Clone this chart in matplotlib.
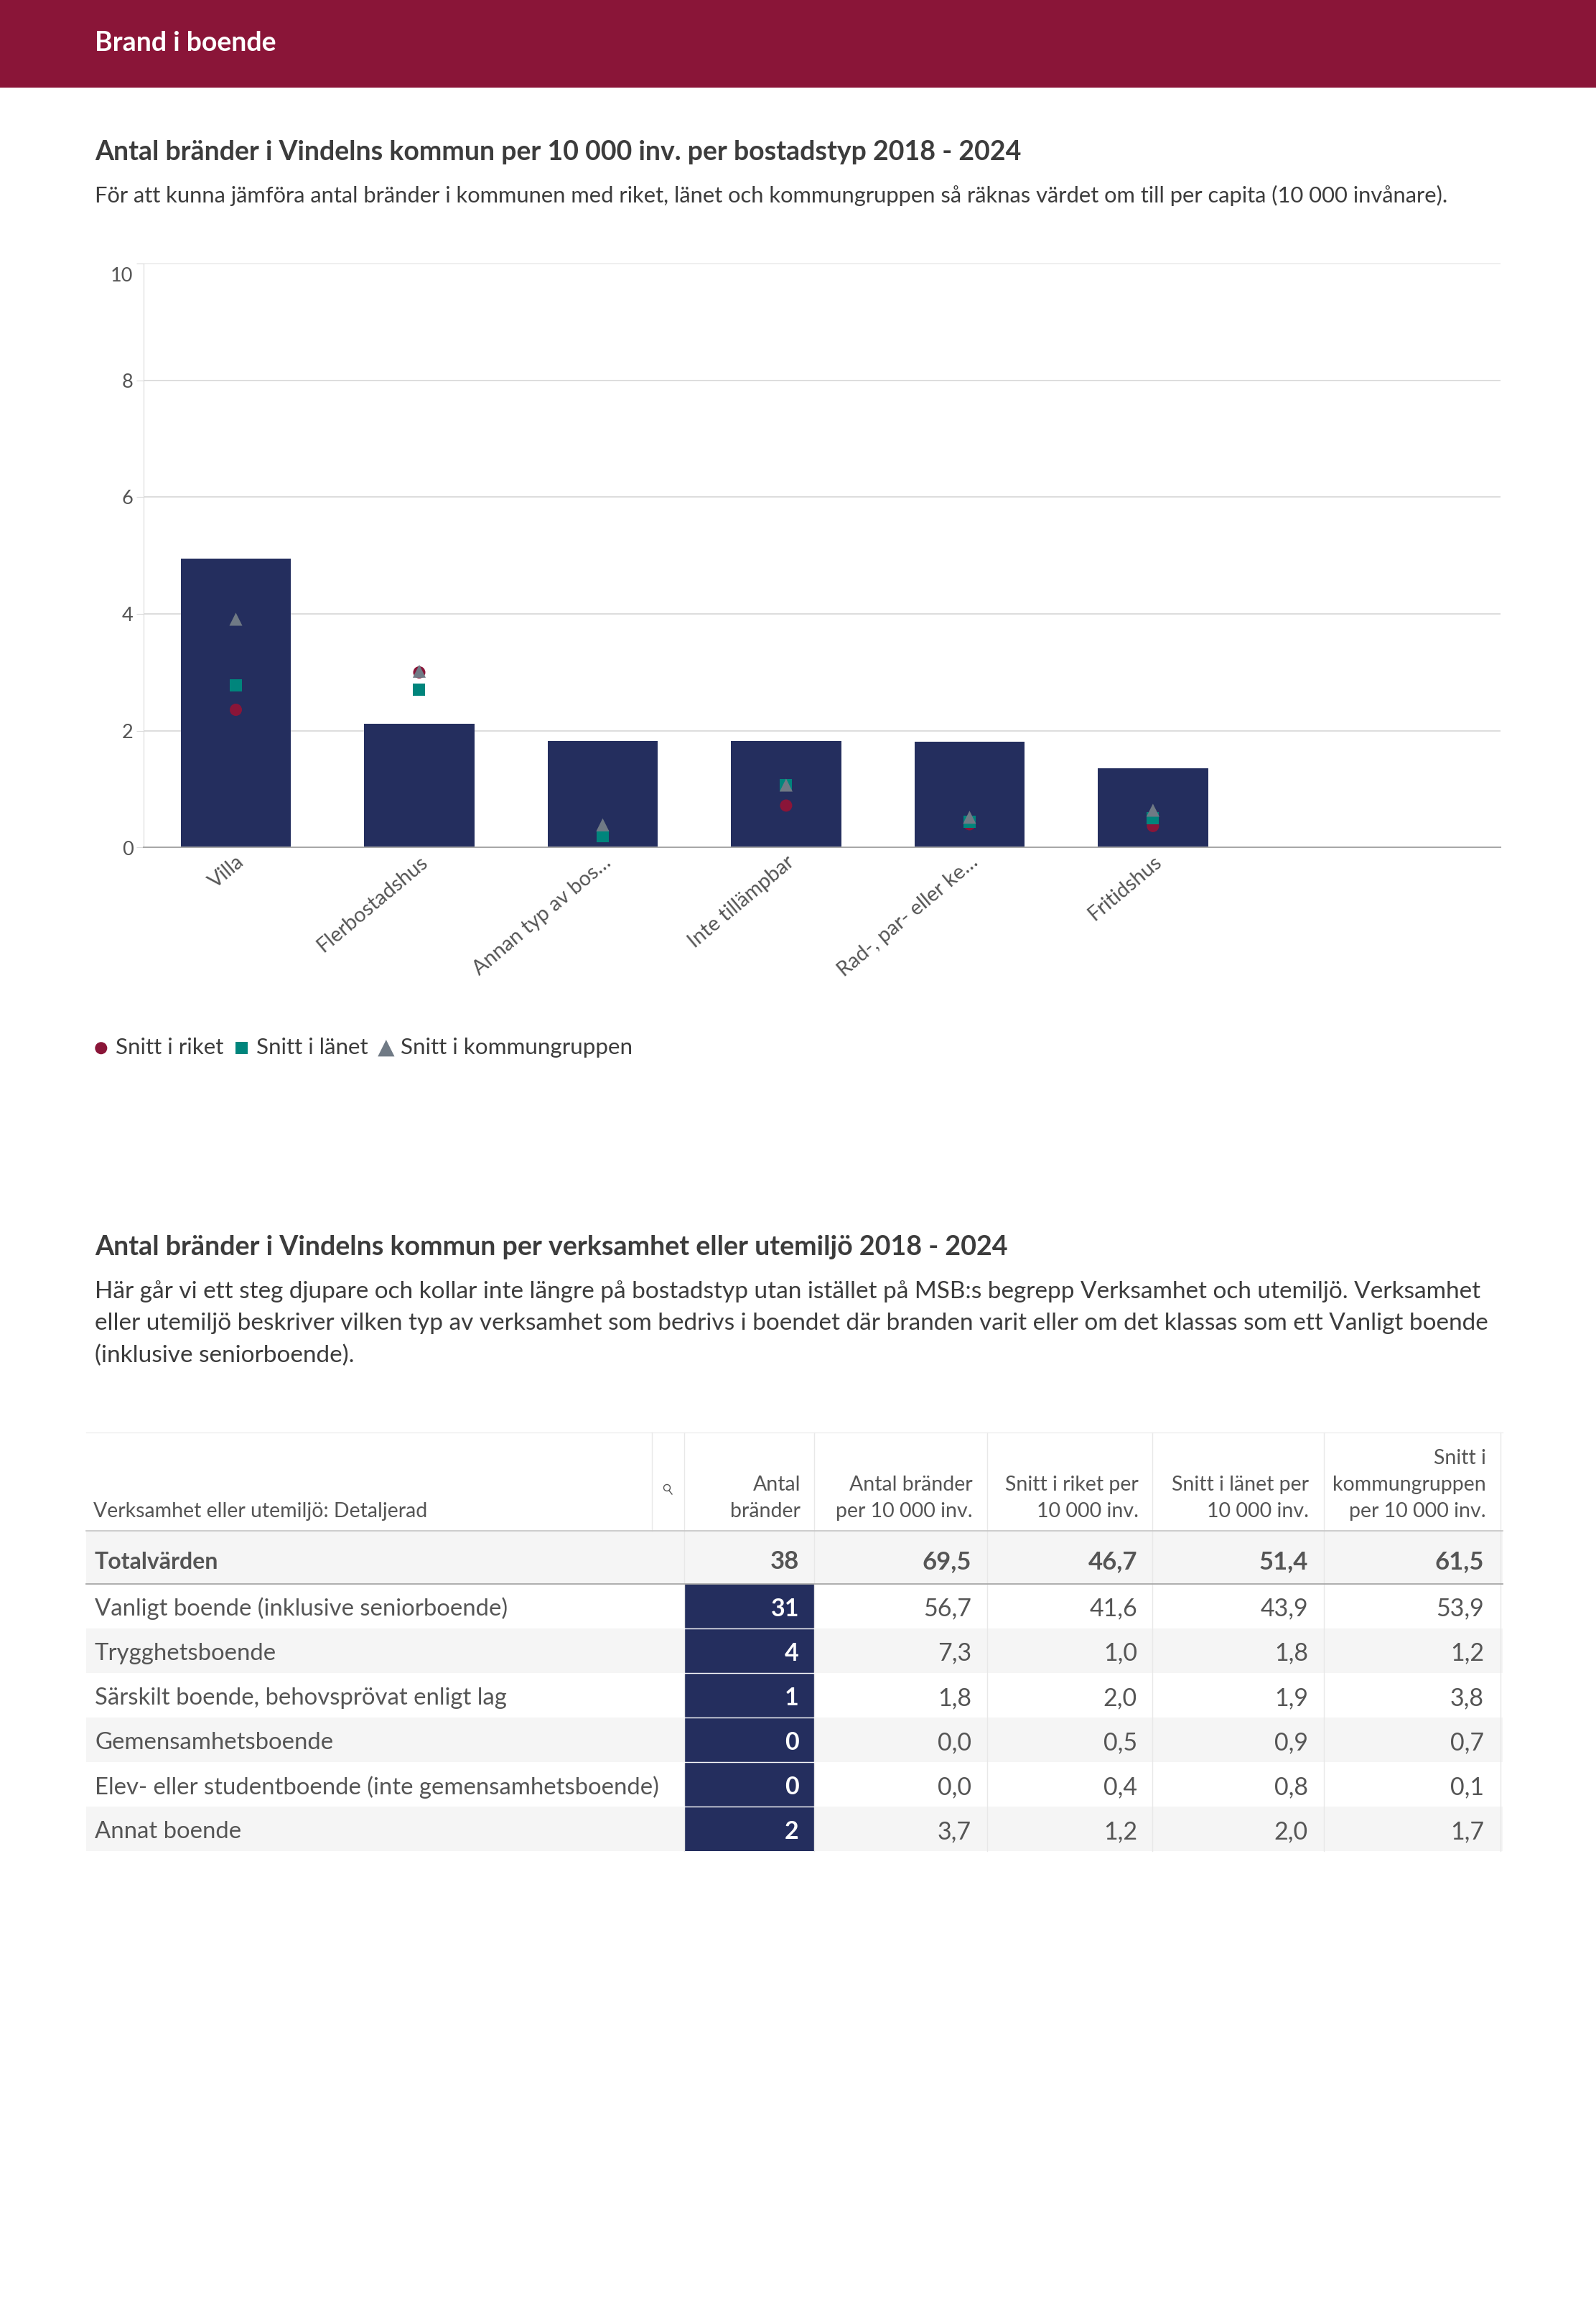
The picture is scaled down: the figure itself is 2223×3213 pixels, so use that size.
import matplotlib

matplotlib.use("Agg")

import matplotlib.pyplot as plt
from matplotlib.patches import Rectangle, Circle
from matplotlib.transforms import ScaledTranslation

plt.rcParams["font.family"] = ["Lato", "DejaVu Sans"]

# ---------------------------------------------------
# DATA
# ---------------------------------------------------

categories = ["Villa", "Flerbostadshus", "Annan typ av bos…", "Inte tillämpbar",
              "Rad-, par- eller ke…", "Fritidshus"]
vindeln = [4.95, 2.12, 1.82, 1.82, 1.81, 1.36]
riket = [2.36, 3.00, 0.20, 0.72, 0.40, 0.37]
lanet = [2.78, 2.70, 0.20, 1.07, 0.44, 0.50]
kommungruppen = [3.91, 3.02, 0.39, 1.07, 0.52, 0.64]
y_ticks = [0, 2, 4, 6, 8, 10]

table_headers = ["Antal\nbränder", "Antal bränder\nper 10 000 inv.", "Snitt i riket per\n10 000 inv.",
                 "Snitt i länet per\n10 000 inv.", "Snitt i\nkommungruppen\nper 10 000 inv."]
table_total = ["38", "69,5", "46,7", "51,4", "61,5"]
table_rows = ["Vanligt boende (inklusive seniorboende)", "Trygghetsboende",
              "Särskilt boende, behovsprövat enligt lag", "Gemensamhetsboende",
              "Elev- eller studentboende (inte gemensamhetsboende)", "Annat boende"]
antal = ["31", "4", "1", "0", "0", "2"]
per_10000 = ["56,7", "7,3", "1,8", "0,0", "0,0", "3,7"]
snitt_riket = ["41,6", "1,0", "2,0", "0,5", "0,4", "1,2"]
snitt_lanet = ["43,9", "1,8", "1,9", "0,9", "0,8", "2,0"]
snitt_grupp = ["53,9", "1,2", "3,8", "0,7", "0,1", "1,7"]

# ---------------------------------------------------
# COLOURS AND LAYOUT (pixels)
# ---------------------------------------------------

W, H = 2223, 3213
CRIMSON = "#8A1538"
NAVY = "#242E5E"
TEAL = "#00857C"
GREY = "#707A85"
DARK = "#3C3C3C"
TEXT = "#555555"
GRID = "#DADADA"
STRIPE = "#F5F5F5"

col_edges = [952.6, 1134.4, 1375, 1605, 1844, 2090]
col_text = [1113, 1353, 1584, 1822, 2067]
head_text = [1115, 1355, 1586, 1823, 2070]
row_edges = [2205.7, 2267.5, 2329.8, 2392, 2454, 2516, 2578]

fig = plt.figure(figsize=(W / 100, H / 100), dpi=100, facecolor="white")

# ---------------------------------------------------
# PAGE LAYER
# ---------------------------------------------------

page = fig.add_axes([0, 0, 1, 1])
page.set_xlim(0, W)
page.set_ylim(H, 0)
page.axis("off")

page.add_patch(Rectangle((0, 0), W, 122, color=CRIMSON, lw=0))
page.text(132, 60, "Brand i boende", color="white", fontsize=27, fontweight="bold", va="center")

page.text(132, 212, "Antal bränder i Vindelns kommun per 10 000 inv. per bostadstyp 2018 - 2024",
          color=DARK, fontsize=27, fontweight="bold", va="center")
page.text(132, 272, "För att kunna jämföra antal bränder i kommunen med riket, länet och kommungruppen "
          "så räknas värdet om till per capita (10 000 invånare).",
          color=DARK, fontsize=22.2, va="center")

page.text(132, 1737, "Antal bränder i Vindelns kommun per verksamhet eller utemiljö 2018 - 2024",
          color=DARK, fontsize=27.1, fontweight="bold", va="center")
paragraph = ["Här går vi ett steg djupare och kollar inte längre på bostadstyp utan istället på MSB:s begrepp Verksamhet och utemiljö. Verksamhet",
             "eller utemiljö beskriver vilken typ av verksamhet som bedrivs i boendet där branden varit eller om det klassas som ett Vanligt boende",
             "(inklusive seniorboende)."]
for y, line in zip([1799, 1843, 1888], paragraph):
    page.text(132, y, line, color=DARK, fontsize=24, va="center")

# ---------------------------------------------------
# TABLE
# ---------------------------------------------------

page.add_patch(Rectangle((120, 2132), 1973, 74, color=STRIPE, lw=0))
for i in range(len(table_rows)):
    top, bottom = row_edges[i], row_edges[i + 1]
    if i % 2 == 1:
        page.add_patch(Rectangle((120, top), 1973, bottom - top, color=STRIPE, lw=0))
    page.add_patch(Rectangle((col_edges[0], top), col_edges[1] - col_edges[0], bottom - top, color=NAVY, lw=0))
    if i > 0:
        page.plot([col_edges[0], col_edges[1]], [top, top], color="white", lw=1)

page.plot([120, 2093], [1994.5, 1994.5], color="#EFEFEF", lw=1)
for x in col_edges:
    page.plot([x, x], [1994.5, 2578], color="#E8E8E8", lw=1, zorder=1)
page.plot([908, 908], [1994.5, 2132], color="#E8E8E8", lw=1)
page.plot([120, 2093], [2132, 2132], color="#C4C4C4", lw=1.2)
page.plot([120, 2093], [2205.7, 2205.7], color="#A8A8A8", lw=1.3)

page.text(130, 2105, "Verksamhet eller utemiljö: Detaljerad", color=TEXT, fontsize=20.5, va="center")
page.add_patch(Circle((929, 2072), 4.5, fill=False, ec=TEXT, lw=1))
page.plot([932, 936], [2076, 2081], color=TEXT, lw=1)

for x, header in zip(head_text, table_headers):
    lines = header.split("\n")
    for j, line in enumerate(reversed(lines)):
        page.text(x, 2105 - j * 37, line, color=TEXT, fontsize=20.5, ha="right", va="center")

page.text(132, 2175, "Totalvärden", color=TEXT, fontsize=23, fontweight="bold", va="center")
for x, value in zip(col_text, table_total):
    page.text(x, 2175, value, color=TEXT, fontsize=25, fontweight="bold", ha="right", va="center")

columns = [antal, per_10000, snitt_riket, snitt_lanet, snitt_grupp]
for i, label in enumerate(table_rows):
    yc = (row_edges[i] + row_edges[i + 1]) / 2 + 4
    page.text(132, yc, label, color=TEXT, fontsize=23.7, va="center")
    for c, column in enumerate(columns):
        page.text(col_text[c], yc, column[i], color="white" if c == 0 else TEXT, fontsize=24.5,
                  fontweight="bold" if c == 0 else "normal", ha="right", va="center")

# ---------------------------------------------------
# BAR CHART
# ---------------------------------------------------

ax = fig.add_axes([200 / W, 1 - 1180.5 / H, 1890 / W, 813.5 / H])
ax.patch.set_alpha(0)
ax.set_xlim(-0.503, 6.895)
ax.set_ylim(0, 10)

ax.bar(range(len(categories)), vindeln, width=0.6, color=NAVY, zorder=2)
ax.scatter(range(len(categories)), riket, marker="o", s=150, color=CRIMSON, edgecolors="none", zorder=3, label="Snitt i riket")
ax.scatter(range(len(categories)), lanet, marker="s", s=150, color=TEAL, edgecolors="none", zorder=4, label="Snitt i länet")
ax.scatter(range(len(categories)), kommungruppen, marker="^", s=170, color=GREY, edgecolors="none", zorder=5, label="Snitt i kommungruppen")

ax.yaxis.grid(True, color=GRID, lw=1.3, zorder=0)
ax.set_axisbelow(True)
for name in ["top", "right"]:
    ax.spines[name].set_visible(False)
ax.spines["left"].set_color(GRID)
ax.spines["bottom"].set_color("#A8A8A8")
ax.spines["bottom"].set_linewidth(1.5)

ax.set_yticks(y_ticks)
ax.tick_params(axis="y", length=7, color=GRID, labelsize=19.5, labelcolor=TEXT, pad=3.5)

# nudge the top y label down, it sits under its gridline
labels = ax.get_yticklabels()
labels[-1].set_va("top")
labels[-1].set_transform(labels[-1].get_transform() + ScaledTranslation(0, -5 / 100, fig.dpi_scale_trans))

ax.set_xticks(range(len(categories)))
ax.set_xticklabels(categories, rotation=40, ha="right", rotation_mode="anchor", fontsize=20.8, color=TEXT)
ax.tick_params(axis="x", length=0, pad=5)

leg = ax.legend(loc="upper left", bbox_to_anchor=(122 / W, 1 - 1445 / H), bbox_transform=fig.transFigure,
                ncol=3, frameon=False, fontsize=22.6, labelcolor=DARK, handlelength=1.2, handletextpad=0.05,
                columnspacing=0.2, borderpad=0, borderaxespad=0)
leg.legend_handles[2].set_sizes([280])

fig.savefig("out.png", dpi=100)
plt.close(fig)
